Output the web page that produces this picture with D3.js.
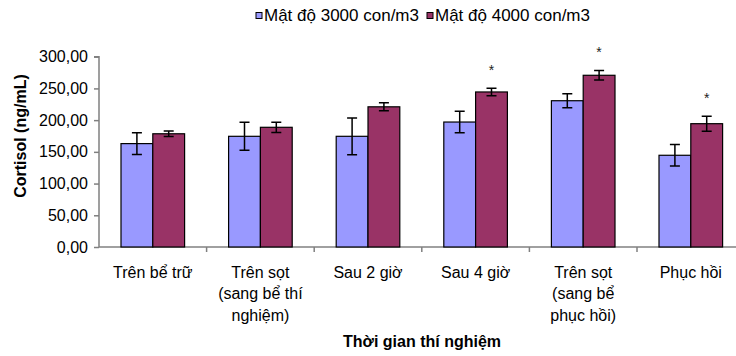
<!DOCTYPE html>
<html>
<head>
<meta charset="utf-8">
<script src="https://cdn.jsdelivr.net/npm/d3@7"></script>
<style>
  body { margin: 0; background: #fff; }
  svg { display: block; font-family: "Liberation Sans", Arial, sans-serif; }
</style>
</head>
<body>
<div id="chart"></div>
<script>
//____________________________DATA________________________//
const categories = [
    ["Trên bể trữ"],
    ["Trên sọt", "(sang bể thí", "nghiệm)"],
    ["Sau 2 giờ"],
    ["Sau 4 giờ"],
    ["Trên sọt", "(sang bể", "phục hồi)"],
    ["Phục hồi"]
]
const seriesNames = ["Mật độ 3000 con/m3", "Mật độ 4000 con/m3"]
const meanA = [163, 174.5, 174.5, 197, 230.6, 144.6]
const errA = [17, 22, 29, 17, 11, 17]
const meanB = [178.5, 188.7, 221, 244.4, 270.7, 194.4]
const errB = [4.3, 8, 6.3, 6, 7.6, 11.8]
const significant = [false, false, false, true, true, true]
const yTicks = [0, 50, 100, 150, 200, 250, 300]

const colors = ["#9999FF", "#993366"]

//____________________________LAYOUT________________________//
const W = 736, H = 356
const svg = d3.select('#chart').append('svg')
    .attr('width', W)
    .attr('height', H)

const x0 = d3.scaleBand()
    .domain(d3.range(categories.length))
    .range([99, 744.6])

const groupPad = 22
const x1 = d3.scaleBand()
    .domain([0, 1])
    .range([groupPad, x0.bandwidth() - groupPad])

const y = d3.scaleLinear()
    .domain([0, 300])
    .range([247, 56.7])

const fmt = v => d3.format(".2f")(v).replace('.', ',')

// Y AXIS
const yAxis = svg.append('g')
    .attr('transform', 'translate(99,0)')
    .call(d3.axisLeft(y).tickValues(yTicks).tickFormat(fmt).tickSize(5).tickPadding(6))
yAxis.selectAll('path, line').attr('stroke', '#808080').attr('stroke-width', 1.5)
yAxis.select('.domain').attr('d', `M-5,${y(300)}H0V${y(0)}`)
yAxis.selectAll('text')
    .attr('font-size', 16)
    .attr('font-family', '"Liberation Sans", Arial, sans-serif')
    .attr('fill', '#000')

// X AXIS
const xAxisG = svg.append('g')
xAxisG.append('line')
    .attr('x1', 99).attr('x2', W)
    .attr('y1', y(0)).attr('y2', y(0))
    .attr('stroke', '#808080').attr('stroke-width', 1.5)
xAxisG.selectAll('.xtick')
    .data(d3.range(1, categories.length))
    .join('line')
    .attr('class', 'xtick')
    .attr('x1', i => x0(i)).attr('x2', i => x0(i))
    .attr('y1', y(0)).attr('y2', y(0) + 5)
    .attr('stroke', '#808080').attr('stroke-width', 1.5)

const labels = xAxisG.selectAll('.xlabel')
    .data(categories)
    .join('text')
    .attr('class', 'xlabel')
    .attr('text-anchor', 'middle')
    .attr('font-size', 16)
labels.selectAll('tspan')
    .data((d, i) => d.map(line => ({line, i})))
    .join('tspan')
    .attr('x', d => x0(d.i) + x0.bandwidth() / 2)
    .attr('y', (d, j) => 277.5 + j * 21.6)
    .text(d => d.line)

// BARS
const groups = svg.append('g').selectAll('g')
    .data(categories.map((c, i) => i))
    .join('g')
    .attr('transform', i => `translate(${x0(i)},0)`)

const barData = i => [
    {s: 0, v: meanA[i], e: errA[i]},
    {s: 1, v: meanB[i], e: errB[i]}
]

groups.selectAll('rect')
    .data(barData)
    .join('rect')
    .attr('x', d => x1(d.s))
    .attr('y', d => y(d.v))
    .attr('width', x1.bandwidth())
    .attr('height', d => y(0) - y(d.v))
    .attr('fill', d => colors[d.s])
    .attr('stroke', '#000')
    .attr('stroke-width', 1.2)

// ERROR BARS
const capW = 5
groups.selectAll('.err')
    .data(barData)
    .join('path')
    .attr('class', 'err')
    .attr('d', d => {
        const cx = x1(d.s) + x1.bandwidth() / 2
        const t = y(d.v + d.e), b = y(d.v - d.e)
        return `M${cx - capW},${t}H${cx + capW}M${cx},${t}V${b}M${cx - capW},${b}H${cx + capW}`
    })
    .attr('fill', 'none')
    .attr('stroke', '#000')
    .attr('stroke-width', 1.5)

// SIGNIFICANCE STARS
groups.filter(i => significant[i])
    .append('text')
    .attr('x', x1(1) + x1.bandwidth() / 2)
    .attr('y', i => y(meanB[i] + errB[i]) - 20 + 7)
    .attr('text-anchor', 'middle')
    .attr('font-size', 14)
    .attr('fill', '#222')
    .text('*')

// AXIS TITLES
svg.append('text')
    .attr('transform', 'translate(26,136) rotate(-90)')
    .attr('text-anchor', 'middle')
    .attr('font-size', 16)
    .attr('font-weight', 'bold')
    .text('Cortisol (ng/mL)')

svg.append('text')
    .attr('x', 422)
    .attr('y', 347)
    .attr('text-anchor', 'middle')
    .attr('font-size', 16)
    .attr('font-weight', 'bold')
    .text('Thời gian thí nghiệm')

// LEGEND
const legendX = [256, 427]
const legend = svg.append('g').selectAll('g')
    .data(seriesNames)
    .join('g')
    .attr('transform', (d, i) => `translate(${legendX[i]},0)`)
legend.append('rect')
    .attr('x', 0).attr('y', 12.5)
    .attr('width', 6).attr('height', 6)
    .attr('fill', (d, i) => colors[i])
    .attr('stroke', '#000')
    .attr('stroke-width', 1)
legend.append('text')
    .attr('x', 8)
    .attr('y', 21)
    .attr('font-size', 17)
    .text(d => d)
</script>
</body>
</html>
